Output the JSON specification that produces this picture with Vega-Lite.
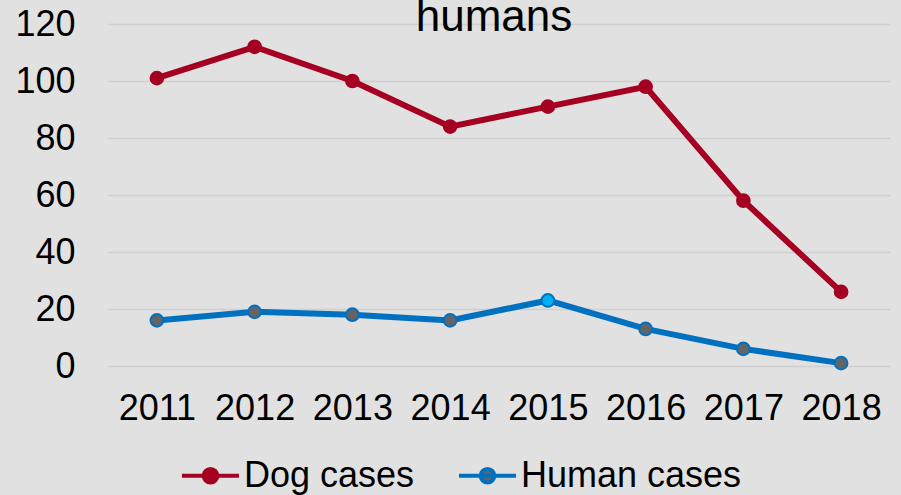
{
  "$schema": "https://vega.github.io/schema/vega-lite/v6.json",
  "width": 782,
  "height": 342,
  "autosize": {"type": "none"},
  "padding": {"left": 108, "top": 24, "right": 11, "bottom": 129},
  "background": "#e1e1e1",
  "title": {
    "text": "humans",
    "font": "Liberation Sans",
    "fontSize": 44,
    "fontWeight": "normal",
    "color": "#000000",
    "anchor": "middle",
    "baseline": "alphabetic",
    "offset": 0,
    "dy": 69,
    "dx": -5
  },
  "config": {
    "view": {"stroke": null},
    "font": "Liberation Sans",
    "axis": {"labelFont": "Liberation Sans", "labelColor": "#000000"}
  },
  "data": {
    "values": [
      {"year": "2011", "series": "Dog cases", "value": 101},
      {"year": "2012", "series": "Dog cases", "value": 112},
      {"year": "2013", "series": "Dog cases", "value": 100},
      {"year": "2014", "series": "Dog cases", "value": 84},
      {"year": "2015", "series": "Dog cases", "value": 91},
      {"year": "2016", "series": "Dog cases", "value": 98},
      {"year": "2017", "series": "Dog cases", "value": 58},
      {"year": "2018", "series": "Dog cases", "value": 26},
      {"year": "2011", "series": "Human cases", "value": 16},
      {"year": "2012", "series": "Human cases", "value": 19},
      {"year": "2013", "series": "Human cases", "value": 18},
      {"year": "2014", "series": "Human cases", "value": 16},
      {"year": "2015", "series": "Human cases", "value": 23},
      {"year": "2016", "series": "Human cases", "value": 13},
      {"year": "2017", "series": "Human cases", "value": 6},
      {"year": "2018", "series": "Human cases", "value": 1}
    ]
  },
  "encoding": {
    "x": {
      "field": "year",
      "type": "ordinal",
      "scale": {"type": "point", "padding": 0.5},
      "axis": {
        "title": null,
        "labelAngle": 0,
        "labelFontSize": 36,
        "labelPadding": 25,
        "domain": false,
        "ticks": false,
        "grid": false
      }
    },
    "y": {
      "field": "value",
      "type": "quantitative",
      "scale": {"domain": [0, 120], "nice": false},
      "axis": {
        "title": null,
        "values": [0, 20, 40, 60, 80, 100, 120],
        "labelFontSize": 36,
        "labelPadding": 33,
        "domain": false,
        "ticks": false,
        "grid": true,
        "gridColor": "#d0d0d0",
        "gridWidth": 1.5
      }
    }
  },
  "layer": [
    {
      "mark": {"type": "line", "strokeWidth": 6},
      "encoding": {
        "color": {
          "field": "series",
          "type": "nominal",
          "scale": {"domain": ["Dog cases", "Human cases"], "range": ["#a50021", "#0070c0"]},
          "legend": {
            "title": null,
            "orient": "none",
            "direction": "horizontal",
            "legendX": 72,
            "legendY": 421,
            "padding": 0,
            "symbolType": "M-1,0H1M0.24,0A0.24,0.24 0 1,1 -0.24,0A0.24,0.24 0 1,1 0.24,0Z",
            "symbolSize": 3249,
            "symbolStrokeWidth": 4,
            "labelFontSize": 36,
            "labelFont": "Liberation Sans",
            "labelColor": "#000000",
            "labelOffset": 3,
            "columnPadding": 36,
            "labelLimit": 400,
            "encode": {
              "symbols": {
                "update": {
                  "fill": {"signal": "datum.value === 'Human cases' ? '#646464' : '#a50021'"},
                  "fillOpacity": {"value": 1},
                  "stroke": {"signal": "datum.value === 'Human cases' ? '#0070c0' : '#a50021'"},
                  "strokeWidth": {"value": 4},
                  "opacity": {"value": 1}
                }
              }
            }
          }
        }
      }
    },
    {
      "mark": {"type": "point", "filled": true, "size": 160, "strokeWidth": 2, "opacity": 1},
      "encoding": {
        "fill": {
          "condition": [
            {"test": "datum.series === 'Dog cases'", "value": "#a50021"},
            {"test": "datum.year === '2015'", "value": "#00b0f0"}
          ],
          "value": "#646464"
        },
        "stroke": {
          "condition": {"test": "datum.series === 'Dog cases'", "value": "#a50021"},
          "value": "#0070c0"
        }
      }
    }
  ]
}
